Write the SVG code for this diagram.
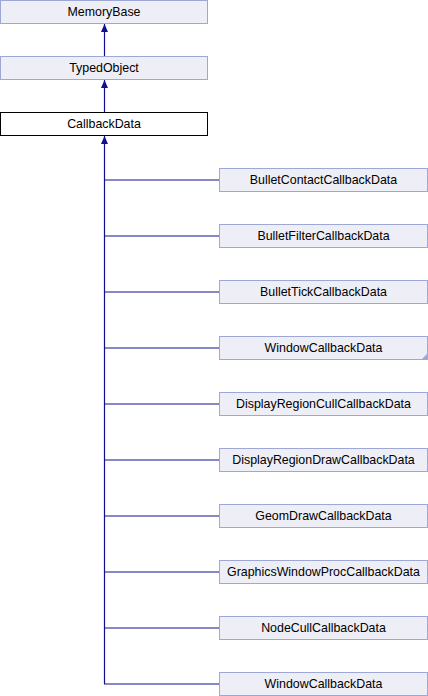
<svg xmlns="http://www.w3.org/2000/svg" width="428" height="696" viewBox="0 0 428 696">
<style>
.n rect{fill:#eeeef7;stroke:#9ea8d8;stroke-width:1}
.n.cur rect{fill:#ffffff;stroke:#000000}
text{font-family:"Liberation Sans",Arial,sans-serif;font-size:12.4px;fill:#000;text-anchor:middle}
.e{stroke:#10108c;stroke-width:1.2;fill:none}
.ah{fill:#10108c;stroke:none}
</style>
<defs>
<marker id="arr" viewBox="0 0 8 7" refX="8" refY="3.5" markerWidth="8" markerHeight="7" markerUnits="userSpaceOnUse" orient="auto">
<path d="M0,0 L8,3.5 L0,7 z" class="ah"/>
</marker>
</defs>
<g id="edges">
<path class="e" d="M104.5,56 V24" marker-end="url(#arr)"/>
<path class="e" d="M104.5,112 V80" marker-end="url(#arr)"/>
<path class="e" d="M104.5,684 V136" marker-end="url(#arr)"/>
<path class="e" d="M104.5,180 H219 M104.5,236 H219 M104.5,292 H219 M104.5,348 H219 M104.5,404 H219 M104.5,460 H219 M104.5,516 H219 M104.5,572 H219 M104.5,628 H219 M104,684 H219"/>
</g>
<g id="MemoryBase" class="n"><rect x="0.5" y="0.5" width="207" height="23"/><text x="104" y="16.3">MemoryBase</text></g>
<g id="TypedObject" class="n"><rect x="0.5" y="56.5" width="207" height="23"/><text x="104" y="72.3">TypedObject</text></g>
<g id="CallbackData" class="n cur"><rect x="0.5" y="112.5" width="207" height="23"/><text x="104" y="128.3">CallbackData</text></g>
<g id="BulletContactCallbackData" class="n"><rect x="219.5" y="168.5" width="208" height="23"/><text x="323.5" y="184.3">BulletContactCallbackData</text></g>
<g id="BulletFilterCallbackData" class="n"><rect x="219.5" y="224.5" width="208" height="23"/><text x="323.5" y="240.3">BulletFilterCallbackData</text></g>
<g id="BulletTickCallbackData" class="n"><rect x="219.5" y="280.5" width="208" height="23"/><text x="323.5" y="296.3">BulletTickCallbackData</text></g>
<g id="WindowCallbackData1" class="n"><rect x="219.5" y="336.5" width="208" height="23"/><text x="323.5" y="352.3">WindowCallbackData</text><path d="M428,353 L428,360 L421,360 z" fill="#9ea8d8"/></g>
<g id="DisplayRegionCullCallbackData" class="n"><rect x="219.5" y="392.5" width="208" height="23"/><text x="323.5" y="408.3">DisplayRegionCullCallbackData</text></g>
<g id="DisplayRegionDrawCallbackData" class="n"><rect x="219.5" y="448.5" width="208" height="23"/><text x="323.5" y="464.3">DisplayRegionDrawCallbackData</text></g>
<g id="GeomDrawCallbackData" class="n"><rect x="219.5" y="504.5" width="208" height="23"/><text x="323.5" y="520.3">GeomDrawCallbackData</text></g>
<g id="GraphicsWindowProcCallbackData" class="n"><rect x="219.5" y="560.5" width="208" height="23"/><text x="323.5" y="576.3">GraphicsWindowProcCallbackData</text></g>
<g id="NodeCullCallbackData" class="n"><rect x="219.5" y="616.5" width="208" height="23"/><text x="323.5" y="632.3">NodeCullCallbackData</text></g>
<g id="WindowCallbackData2" class="n"><rect x="219.5" y="672.5" width="208" height="23"/><text x="323.5" y="688.3">WindowCallbackData</text></g>
</svg>
